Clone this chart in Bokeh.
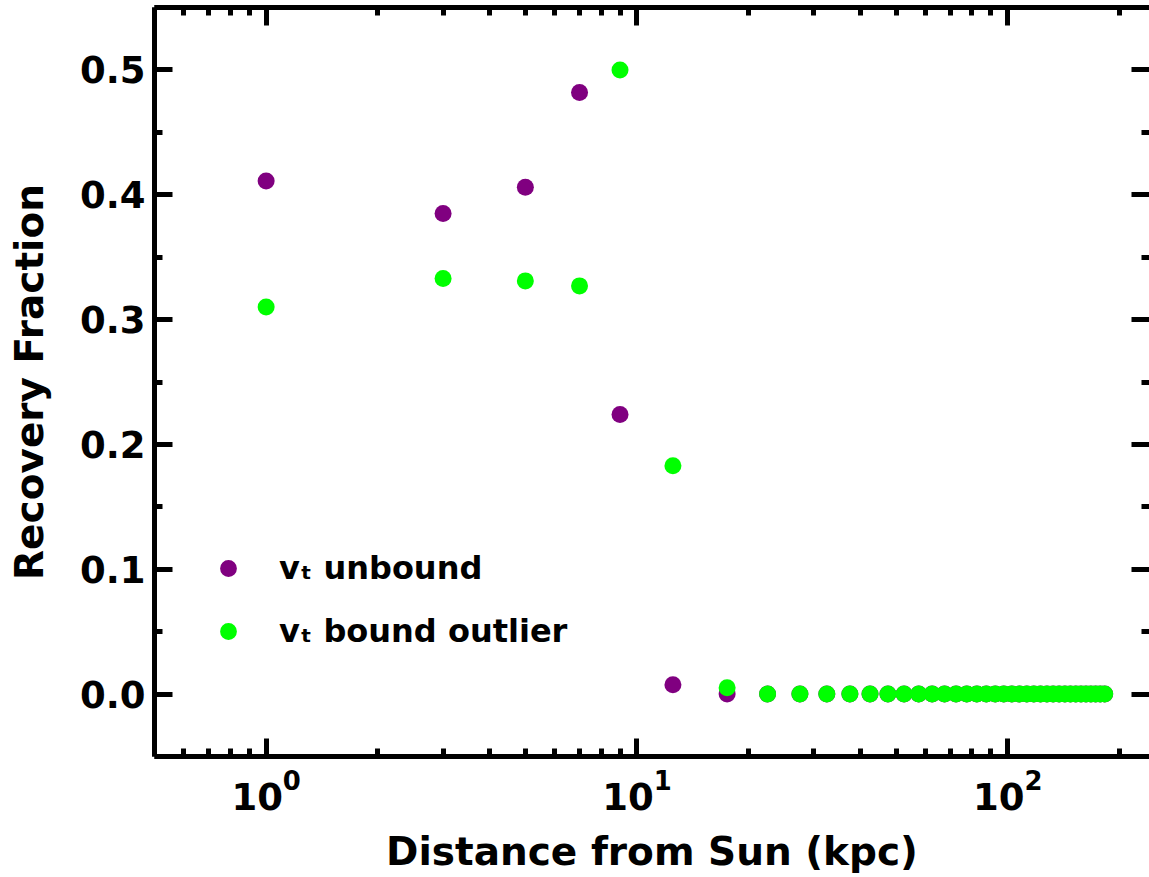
from bokeh.plotting import figure
from bokeh.models import (Range1d, LogAxis, LinearAxis, LogTicker, SingleIntervalTicker,
                          PrintfTickFormatter, Legend, LegendItem, ColumnDataSource,
                          CustomJSTickFormatter)
from bokeh.embed import file_html
from bokeh.resources import INLINE

# ---- data ----
distance = [1, 3, 5, 7, 9, 12.5, 17.5, 22.5, 27.5, 32.5, 37.5, 42.5, 47.5, 52.5,
            57.5, 62.5, 67.5, 72.5, 77.5, 82.5, 87.5, 92.5, 97.5, 102.5, 107.5,
            112.5, 117.5, 122.5, 127.5, 132.5, 137.5, 142.5, 147.5, 152.5, 157.5,
            162.5, 167.5, 172.5, 177.5, 182.5]
unbound = [0.411, 0.385, 0.406, 0.482, 0.224, 0.0075, 0.0, 0.0, 0.0, 0.0, 0.0,
           0.0, 0.0, 0.0, 0.0, 0.0, 0.0, 0.0, 0.0, 0.0, 0.0, 0.0, 0.0, 0.0, 0.0,
           0.0, 0.0, 0.0, 0.0, 0.0, 0.0, 0.0, 0.0, 0.0, 0.0, 0.0, 0.0, 0.0, 0.0, 0.0]
bound_outlier = [0.310, 0.333, 0.331, 0.327, 0.500, 0.183, 0.005, 0.0, 0.0, 0.0,
                 0.0, 0.0, 0.0, 0.0, 0.0, 0.0, 0.0, 0.0, 0.0, 0.0, 0.0, 0.0, 0.0,
                 0.0, 0.0, 0.0, 0.0, 0.0, 0.0, 0.0, 0.0, 0.0, 0.0, 0.0, 0.0, 0.0,
                 0.0, 0.0, 0.0, 0.0]
series_labels = ["vₜ unbound", "vₜ bound outlier"]
x_label = "Distance from Sun (kpc)"
y_label = "Recovery Fraction"

FONT = "DejaVu Sans"
TICK_FS = "37px"
LABEL_FS = "39px"

src = ColumnDataSource(dict(x=distance, u=unbound, b=bound_outlier))

p = figure(width=1149, height=877, x_axis_type="log",
           x_range=Range1d(0.5, 241), y_range=Range1d(-0.05, 0.55),
           output_backend="svg", toolbar_location=None,
           min_border_left=154, min_border_bottom=121, min_border_top=7,
           min_border_right=0)
p.outline_line_color = None
p.grid.visible = False
p.background_fill_color = "white"
p.border_fill_color = "white"


def style(ax, line=True):
    ax.axis_line_width = 5
    ax.axis_line_color = "black" if line else None
    ax.major_tick_line_width = 5
    ax.minor_tick_line_width = 5
    ax.major_tick_in = 18
    ax.major_tick_out = 0
    ax.minor_tick_in = 8
    ax.minor_tick_out = 0
    ax.major_label_text_font = FONT
    ax.major_label_text_font_style = "bold"
    ax.major_label_text_font_size = TICK_FS
    ax.major_label_text_color = "black"
    ax.axis_label_text_font = FONT
    ax.axis_label_text_font_style = "bold"
    ax.axis_label_text_font_size = LABEL_FS
    ax.axis_label_text_color = "black"


blank = CustomJSTickFormatter(code="return ''")

xb = p.xaxis[0]
xb.ticker = LogTicker(num_minor_ticks=10)
xb.axis_label = x_label
style(xb)
xb.major_label_standoff = 12
xb.axis_label_standoff = 16

yl = p.yaxis[0]
yl.ticker = SingleIntervalTicker(interval=0.1, num_minor_ticks=2)
yl.formatter = PrintfTickFormatter(format="%.1f")
yl.axis_label = y_label
style(yl)
yl.major_label_standoff = 9
yl.axis_label_standoff = 25

xt = LogAxis(ticker=LogTicker(num_minor_ticks=10), formatter=blank)
style(xt)
xt.major_label_standoff = 0
xt.major_label_text_font_size = "1px"
p.add_layout(xt, "above")

yr = LinearAxis(ticker=SingleIntervalTicker(interval=0.1, num_minor_ticks=2),
                formatter=blank)
style(yr, line=False)
yr.major_label_standoff = 0
yr.major_label_text_font_size = "1px"
p.add_layout(yr, "right")

r_u = p.scatter("x", "u", source=src, size=17, color="#800080", line_color=None)
r_b = p.scatter("x", "b", source=src, size=17, color="#00ff00", line_color=None)

legend = Legend(items=[LegendItem(label=series_labels[0], renderers=[r_u]),
                       LegendItem(label=series_labels[1], renderers=[r_b])],
                location=(53, 104))
legend.border_line_color = None
legend.background_fill_alpha = 0
legend.label_text_font = FONT
legend.label_text_font_style = "bold"
legend.label_text_font_size = "32px"
legend.label_text_color = "black"
legend.glyph_width = 42
legend.glyph_height = 42
legend.label_height = 42
legend.label_standoff = 30
legend.spacing = 21
legend.padding = 0
legend.margin = 0
p.add_layout(legend)

open("out.html", "w").write(file_html(p, INLINE))
